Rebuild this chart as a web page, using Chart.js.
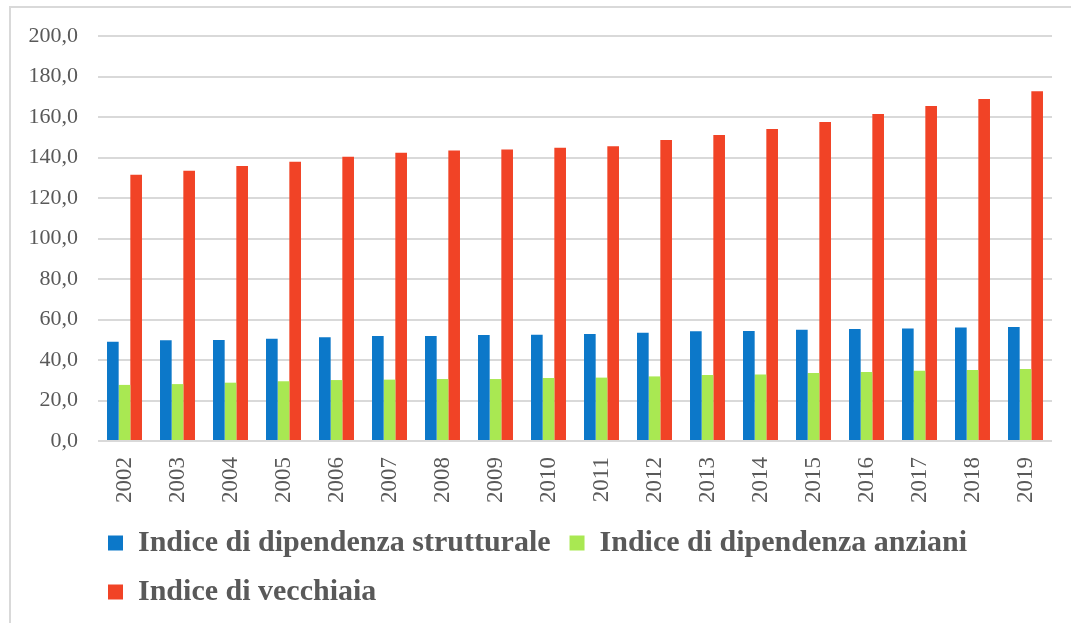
<!DOCTYPE html>
<html>
<head>
<meta charset="utf-8">
<script src="https://cdn.jsdelivr.net/npm/chart.js@4.4.1/dist/chart.umd.min.js"></script>
<style>
  html, body { margin: 0; padding: 0; background: #fff; }
  #wrap { position: relative; width: 1071px; height: 623px; overflow: hidden; }
  #frame { position: absolute; left: 9px; top: 6px; right: -10px; bottom: -10px;
           border-top: 2px solid #D9D9D9; border-left: 2px solid #D9D9D9; }
  #c { position: absolute; left: 0; top: 0; }
</style>
</head>
<body>
<div id="wrap">
  <div id="frame"></div>
  <canvas id="c" width="1071" height="623"></canvas>
</div>
<script>
// anni
var anni = ["2002","2003","2004","2005","2006","2007","2008","2009","2010",
            "2011","2012","2013","2014","2015","2016","2017","2018","2019"];

// Indice di dipendenza strutturale
var strutturale = [49.0, 49.7, 49.9, 50.5, 51.2, 51.9, 51.9, 52.3, 52.5,
                   52.8, 53.5, 54.2, 54.3, 55.0, 55.3, 55.6, 56.0, 56.3];
// Indice di dipendenza anziani
var anziani = [27.7, 28.1, 28.8, 29.5, 30.1, 30.3, 30.6, 30.6, 31.1,
               31.3, 31.9, 32.6, 32.9, 33.6, 34.1, 34.7, 35.1, 35.6];
// Indice di vecchiaia
var vecchiaia = [131.5, 133.5, 135.8, 137.9, 140.4, 142.4, 143.4, 144.0, 144.8,
                 145.5, 148.6, 151.1, 154.1, 157.5, 161.5, 165.4, 168.9, 172.7];

var grigio = '#595959';

// sposta la legenda a sinistra come nell'originale
var legendShift = {
    id: 'legendShift',
    afterLayout: function(chart) {
        if (chart.legend) {
            chart.legend.left = chart.chartArea.left - 9;
        }
    }
};

var ctx = document.getElementById('c').getContext('2d');
var chart = new Chart(ctx, {
    type: 'bar',
    data: {
        labels: anni,
        datasets: [
            {
                label: "Indice di dipendenza strutturale",
                data: strutturale,
                backgroundColor: '#0C78C9'
            },
            {
                label: "Indice di dipendenza anziani",
                data: anziani,
                backgroundColor: '#A9E852'
            },
            {
                label: "Indice di vecchiaia",
                data: vecchiaia,
                backgroundColor: '#F14326'
            }
        ]
    },
    options: {
        responsive: false,
        animation: false,
        layout: {
            padding: { left: 0, top: 36, right: 19, bottom: 6 }
        },
        datasets: {
            bar: {
                categoryPercentage: 0.66,
                barPercentage: 1.0
            }
        },
        scales: {
            x: {
                grid: { display: false, drawTicks: false },
                border: { display: false },
                ticks: {
                    minRotation: 90,
                    maxRotation: 90,
                    padding: 16,
                    color: grigio,
                    font: { family: "'Liberation Serif', serif", size: 23 }
                },
                afterFit: function(scale) { scale.height = 68; }
            },
            y: {
                min: 0,
                max: 200,
                ticks: {
                    stepSize: 20,
                    padding: 20,
                    color: grigio,
                    font: { family: "'Liberation Serif', serif", size: 22 },
                    callback: function(v) { return v.toFixed(1).replace('.', ','); }
                },
                grid: { color: '#D9D9D9', lineWidth: 2, drawTicks: false },
                border: { display: false },
                afterFit: function(scale) { scale.width = 98; }
            }
        },
        plugins: {
            legend: {
                position: 'bottom',
                align: 'start',
                fullSize: false,
                labels: {
                    boxWidth: 15,
                    boxHeight: 15,
                    padding: 19,
                    color: grigio,
                    font: { family: "'Liberation Serif', serif", size: 30, weight: 'bold' }
                }
            },
            tooltip: { enabled: false }
        }
    },
    plugins: [legendShift]
});
</script>
</body>
</html>
